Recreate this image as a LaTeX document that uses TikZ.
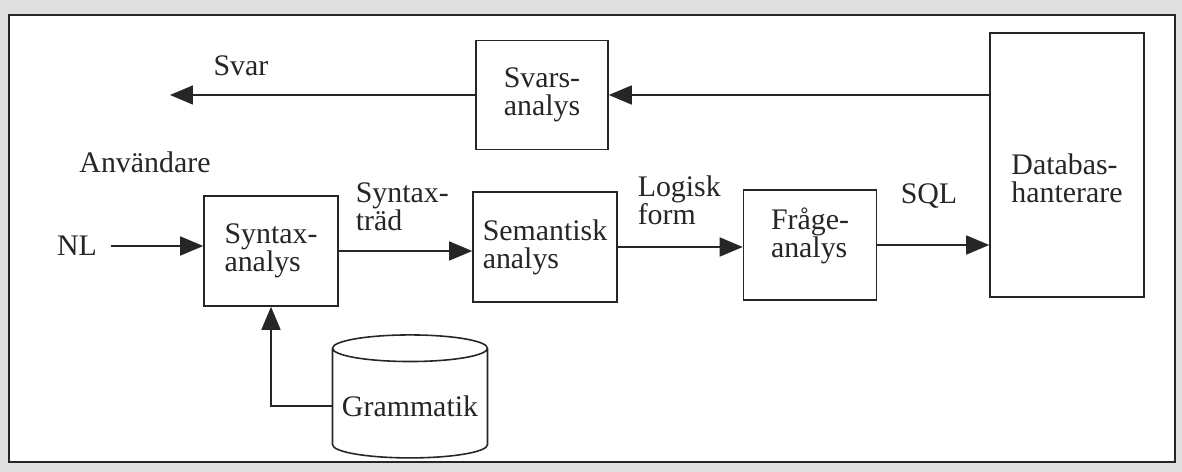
\documentclass[tikz,border=0pt]{standalone}
\usepackage{fontspec}
\setmainfont{Liberation Serif}
\usetikzlibrary{arrows.meta,shapes.geometric}

\begin{document}
\begin{tikzpicture}[x=0.02cm, y=-0.02cm, line width=0.9pt, draw=black!85,
        every node/.style={font=\fontsize{17}{16}\selectfont, text=black!85},
        box/.style={draw, align=left, inner sep=0pt},
        lbl/.style={align=left, anchor=west, inner sep=0pt},
        arr/.style={-{Triangle[length=0.46cm, width=0.38cm]}}]
        \useasboundingbox (0, 0) rectangle (1182, 472);
        \fill[black!12] (0, 0) rectangle (1182, 472);
        \draw[fill=white] (9, 15) rectangle (1175, 462);

        \node[box, minimum width=2.64cm, minimum height=2.18cm] (svars) at (542, 95) {Svars-\\analys};
        \node[box, minimum width=3.08cm, minimum height=5.28cm,
              label={[align=left, yshift=-0.26cm]center:Databas-\\hanterare}] (db) at (1067, 165) {};
        \node[box, minimum width=2.68cm, minimum height=2.2cm] (syn) at (271, 251) {Syntax-\\analys};
        \node[box, minimum width=2.88cm, minimum height=2.2cm] (sem) at (545, 247) {Semantisk\\analys};
        \node[box, minimum width=2.66cm, minimum height=2.2cm,
              label={[align=left, yshift=0.18cm]center:Fråge-\\analys}] (fra) at (810, 245) {};
        \node[draw, cylinder, shape border rotate=90, aspect=0.18,
              minimum width=3.1cm, minimum height=2.46cm] (gram) at (410, 406) {Grammatik};

        \node (svar) at (241, 66) {Svar};
        \node (anv) at (145, 162) {Användare};
        \node (nl) at (77, 246) {NL};
        \node[lbl] (syntr) at (355, 207) {Syntax-\\träd};
        \node[lbl] (logisk) at (637, 200) {Logisk\\form};
        \node (sql) at (929, 196) {SQL};
        \coordinate (ut) at (170, 95);

        \draw[arr] (db.west |- svars.east) -- (svars.east);
        \draw[arr] (svars.west) -- (ut);
        \draw[arr, shorten <=4pt] (nl.east) -- (nl.east -| syn.west);
        \draw[arr] (syn.east) -- (syn.east -| sem.west);
        \draw[arr] (sem.east) -- (sem.east -| fra.west);
        \draw[arr] (fra.east) -- (fra.east -| db.west);
        \draw[arr] (gram.west) -| (syn.south);
\end{tikzpicture}
\end{document}
